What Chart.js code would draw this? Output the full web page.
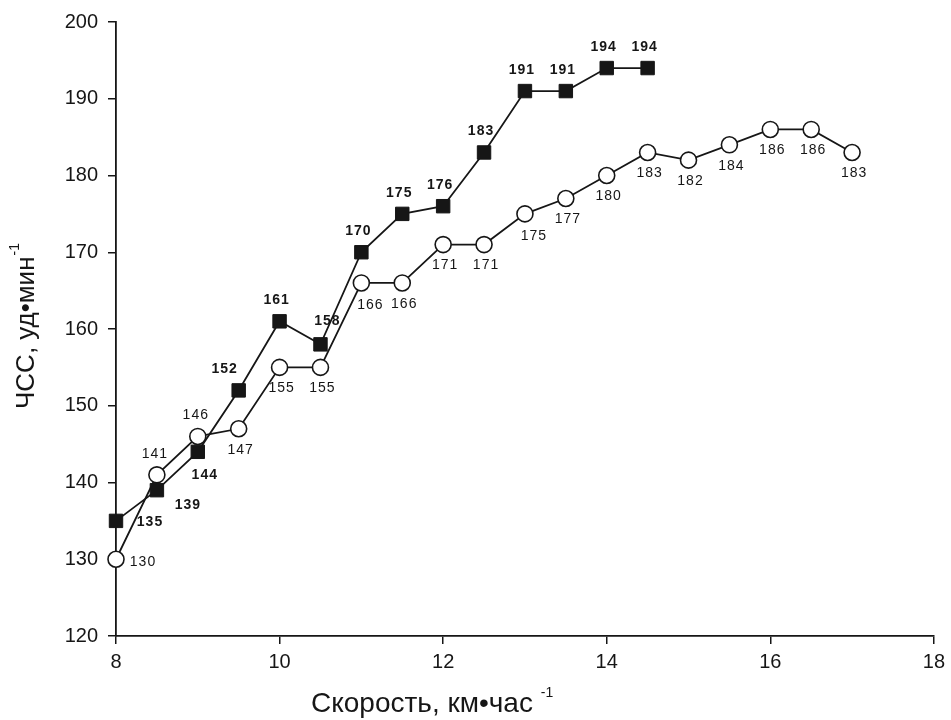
<!DOCTYPE html>
<html>
<head>
<meta charset="utf-8">
<script src="https://cdn.jsdelivr.net/npm/chart.js@4/dist/chart.umd.min.js"></script>
<style>
  html, body { margin: 0; padding: 0; background: #fff; }
  canvas { display: block; }
</style>
</head>
<body>
<canvas id="hrChart" width="951" height="720"></canvas>
<script>
// Скорость (км/час) и ЧСС (уд/мин)
const speedSquares = [8, 8.5, 9, 9.5, 10, 10.5, 11, 11.5, 12, 12.5, 13, 13.5, 14, 14.5];
const hrSquares = [135, 139, 144, 152, 161, 158, 170, 175, 176, 183, 191, 191, 194, 194];

const speedCircles = [8, 8.5, 9, 9.5, 10, 10.5, 11, 11.5, 12, 12.5, 13, 13.5, 14, 14.5, 15, 15.5, 16, 16.5, 17];
const hrCircles = [130, 141, 146, 147, 155, 155, 166, 166, 171, 171, 175, 177, 180, 183, 182, 184, 186, 186, 183];

const xTicks = [8, 10, 12, 14, 16, 18];
const yTicks = [120, 130, 140, 150, 160, 170, 180, 190, 200];

// where each value label sits relative to its marker
const squareLabelSide = ['e', 'se', 's', 'nw', 'n', 'ne', 'n', 'n', 'n', 'n', 'n', 'n', 'n', 'n'];
const circleLabelSide = ['e', 'n', 'n', 's', 's', 's', 'se', 's', 's', 's', 'se', 's', 's', 's', 's', 's', 's', 's', 's'];

const squareOffsets = { n: [-3, -21], nw: [-14, -21], ne: [7, -23], e: [34, 1], se: [31, 15], s: [7, 23] };
const circleOffsets = { n: [-2, -21], s: [2, 21], se: [9, 22], e: [27, 3] };

const ink = '#161616';
const fontFamily = '"Liberation Sans", Arial, sans-serif';

const valueLabels = {
  id: 'valueLabels',
  afterDatasetsDraw(chart) {
    const ctx = chart.ctx;
    ctx.save();
    ctx.fillStyle = ink;
    ctx.textAlign = 'center';
    ctx.textBaseline = 'middle';
    ctx.letterSpacing = '1px';
    chart.data.datasets.forEach((ds, di) => {
      const meta = chart.getDatasetMeta(di);
      ctx.font = ds.labelFont;
      meta.data.forEach((pt, i) => {
        const off = ds.labelOffsets[ds.labelSides[i]];
        ctx.fillText(String(ds.data[i].y), pt.x + off[0], pt.y + off[1]);
      });
    });
    ctx.restore();
  }
};

const axisTitles = {
  id: 'axisTitles',
  afterDraw(chart) {
    const ctx = chart.ctx;
    ctx.save();
    ctx.fillStyle = ink;
    ctx.textBaseline = 'alphabetic';
    ctx.textAlign = 'left';

    // x title
    ctx.font = '28px ' + fontFamily;
    const xMain = 'Скорость, км•час ';
    ctx.fillText(xMain, 311, 712);
    const wX = ctx.measureText(xMain).width;
    ctx.font = '14px ' + fontFamily;
    ctx.fillText('-1', 311 + wX, 697);

    // y title
    ctx.translate(34, 409);
    ctx.rotate(-Math.PI / 2);
    ctx.font = '26px ' + fontFamily;
    const yMain = 'ЧСС, уд•мин';
    ctx.fillText(yMain, 0, 0);
    const wY = ctx.measureText(yMain).width;
    ctx.font = '14px ' + fontFamily;
    ctx.fillText('-1', wY + 1, -15);
    ctx.restore();
  }
};

const toPoints = (xs, ys) => xs.map((x, i) => ({ x: x, y: ys[i] }));

new Chart(document.getElementById('hrChart'), {
  type: 'line',
  data: {
    datasets: [{
      data: toPoints(speedSquares, hrSquares),
      clip: false,
      borderColor: ink,
      borderWidth: 1.8,
      pointStyle: 'rect',
      pointRadius: 9.5,
      pointBackgroundColor: ink,
      pointBorderColor: ink,
      pointBorderWidth: 1,
      labelSides: squareLabelSide,
      labelOffsets: squareOffsets,
      labelFont: 'bold 14px ' + fontFamily
    }, {
      data: toPoints(speedCircles, hrCircles),
      clip: false,
      borderColor: ink,
      borderWidth: 1.8,
      pointStyle: 'circle',
      pointRadius: 8,
      pointBackgroundColor: '#ffffff',
      pointBorderColor: ink,
      pointBorderWidth: 1.6,
      labelSides: circleLabelSide,
      labelOffsets: circleOffsets,
      labelFont: '14px ' + fontFamily
    }]
  },
  options: {
    responsive: false,
    animation: false,
    layout: { padding: { top: 20, left: 0, right: 13, bottom: 0 } },
    plugins: {
      legend: { display: false },
      tooltip: { enabled: false }
    },
    scales: {
      x: {
        type: 'linear',
        min: 8,
        max: 18,
        afterBuildTicks: s => { s.ticks = xTicks.map(v => ({ value: v })); },
        afterFit: s => { s.height = 84; },
        ticks: { color: ink, font: { family: fontFamily, size: 20 }, padding: 6 },
        grid: { display: true, drawOnChartArea: false, drawTicks: true, tickLength: 8, color: ink, lineWidth: 1.5 },
        border: { display: true, color: ink, width: 1.8 }
      },
      y: {
        min: 120,
        max: 200,
        afterBuildTicks: s => { s.ticks = yTicks.map(v => ({ value: v })); },
        afterFit: s => { s.width = 116; },
        ticks: { color: ink, font: { family: fontFamily, size: 20 }, padding: 10 },
        grid: { display: true, drawOnChartArea: false, drawTicks: true, tickLength: 8, color: ink, lineWidth: 1.5 },
        border: { display: true, color: ink, width: 1.8 }
      }
    }
  },
  plugins: [valueLabels, axisTitles]
});
</script>
</body>
</html>
